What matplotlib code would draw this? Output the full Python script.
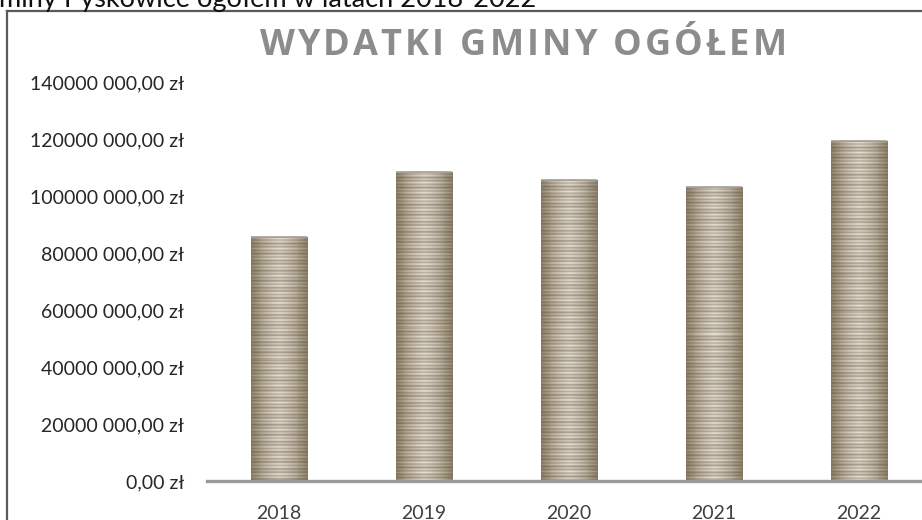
import numpy as np
import matplotlib
matplotlib.use("Agg")
import matplotlib.pyplot as plt
from matplotlib.lines import Line2D

# values (PLN)
years = ["2018", "2019", "2020", "2021", "2022"]
spend = [85.7e6, 108.7e6, 105.7e6, 103.4e6, 119.5e6]
y_ticks = [0, 20e6, 40e6, 60e6, 80e6, 100e6, 120e6, 140e6]

chart_title = "WYDATKI GMINY OGÓŁEM"
header_text = "miny Pyskowice ogółem w latach 2018-2022"

W, H = 922, 520
fig = plt.figure(figsize=(W / 100, H / 100), dpi=100)
fig.patch.set_facecolor("white")


def fx(px):
    return px / W


def fy(py):
    return 1 - py / H


def zl(v):
    v = int(round(v))
    if v == 0:
        return "0,00 zł"
    return f"{v // 1000} {v % 1000:03d},00 zł"


# plot area (category axis runs off the right edge like in the source)
left, right, top, bottom = 206.5, 931.5, 82.7, 481
ax = fig.add_axes([fx(left), fy(bottom), fx(right - left), (bottom - top) / H])
ax.set_xlim(-0.5, len(years) - 0.5)
ax.set_ylim(0, 140e6)
ax.set_facecolor("none")
for s in ["top", "right", "left"]:
    ax.spines[s].set_visible(False)
ax.spines["bottom"].set_color("#9a9a9a")
ax.spines["bottom"].set_linewidth(2.4)
ax.spines["bottom"].set_zorder(5)

ax.set_yticks(y_ticks)
ax.set_yticklabels([zl(v) for v in y_ticks])
ax.set_xticks(range(len(years)))
ax.set_xticklabels(years)
ax.tick_params(axis="y", length=0, pad=16, labelsize=14, labelcolor="#262626")
ax.tick_params(axis="x", length=0, pad=17, labelsize=14, labelcolor="#404040")
for lab in ax.get_xticklabels() + ax.get_yticklabels():
    lab.set_family("Lato")

# striped "cylinder" texture for the bars
rows, cols = 420, 60
r = np.arange(rows)[:, None]
c = np.linspace(0, 1, cols)[None, :]
stripe = 0.5 + 0.5 * np.sin(2 * np.pi * r / 3.4) * 0.8 + 0.2 * np.sin(2 * np.pi * r / 9.0)
shade = 1 - np.abs(2 * c - 1) ** 1.4
dark = np.array([128, 114, 90]) / 255
light = np.array([240, 236, 226]) / 255
mix = np.clip(0.05 + 0.45 * shade + 0.45 * stripe * (0.5 + 0.5 * shade) - 0.1, 0, 1)
tex = dark + (light - dark) * mix[..., None]

bars = ax.bar(range(len(years)), spend, width=0.39, color="none", edgecolor="none", zorder=2)
for b in bars:
    x0, w, h = b.get_x(), b.get_width(), b.get_height()
    n = max(int(h / 140e6 * (bottom - top)), 2)
    im = ax.imshow(tex[:n], extent=[x0, x0 + w, 0, h], aspect="auto",
                   interpolation="nearest", zorder=2, origin="upper")
    im.set_clip_path(b)
    ax.plot([x0, x0 + w], [h, h], color="#a39e96", lw=1.2, zorder=3,
            solid_capstyle="butt")

# outer chart frame (cropped at right and bottom)
fig.add_artist(Line2D([fx(7), fx(7)], [fy(11), 0], color="#5a5a5a", lw=1.6))
fig.add_artist(Line2D([fx(7), 1], [fy(11), fy(11)], color="#5a5a5a", lw=1.6))

# heading above the frame, cut off at the top like in the source
fig.text(fx(-1), fy(7), header_text, fontsize=19.5, family="Lato",
         color="#111111", va="baseline", ha="left")

# letter-spaced chart title
renderer = fig.canvas.get_renderer()
title_font = dict(fontsize=26, family="Open Sans", weight="bold", color="#8c8c8e")
spacing = 3.0
widths = []
for ch in chart_title:
    t = fig.text(0, 0, ch if ch != " " else "n", **title_font)
    widths.append(t.get_window_extent(renderer).width * (0.45 if ch == " " else 1))
    t.remove()
total = sum(widths) + spacing * (len(chart_title) - 1)
xpos = 523 - total / 2
for ch, w in zip(chart_title, widths):
    if ch != " ":
        fig.text(fx(xpos), fy(55), ch, va="baseline", ha="left", **title_font)
    xpos += w + spacing

fig.savefig("out.png", dpi=100)
